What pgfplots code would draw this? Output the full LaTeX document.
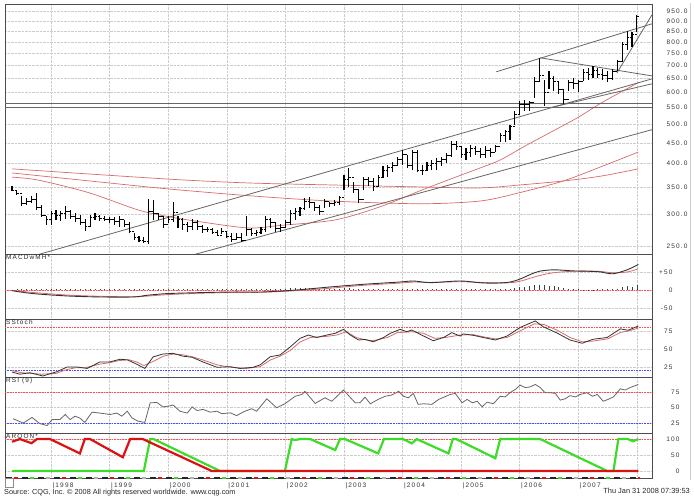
\documentclass[border=0pt]{standalone}
\usepackage{pgfplots}
\usepackage{pgfplotstable}
\pgfplotsset{compat=1.18}
\usepackage{fontspec}
\setmainfont{Liberation Sans}
\newfontfamily\lbl[LetterSpace=18]{Liberation Sans}
\definecolor{maRed}{HTML}{D86A6A}
\definecolor{trGray}{HTML}{666666}
\definecolor{arRed}{HTML}{DD1111}
\definecolor{arGreen}{HTML}{3CDC28}
\pgfdeclareplotmark{cl}{\pgfpathmoveto{\pgfpoint{0pt}{0pt}}\pgfpathlineto{\pgfpoint{2.2bp}{0pt}}\pgfusepathqstroke}
\pgfdeclareplotmark{op}{\pgfpathmoveto{\pgfpoint{0pt}{0pt}}\pgfpathlineto{\pgfpoint{-2.2bp}{0pt}}\pgfusepathqstroke}
\pgfplotstableread{
m h l c
4 351 342 343
5 344 335 337
6 332 314 318
7 329 316 322
8 333 320 325
9 338 307 311
10 316 295 298
11 297 282 290
12 305 282 300
13 306 290 298
14 305 288 300
15 314 292 304
16 307 292 296
17 302 286 292
18 299 282 286
19 292 273 280
20 299 279 294
21 302 290 296
22 299 289 293
23 297 288 291
24 295 285 290
25 295 282 287
26 296 279 290
27 290 278 282
28 286 269 272
29 269 259 262
30 265 255 258
31 263 254 257
32 327 253 305
33 325 290 300
34 302 290 296
35 297 277 282
36 296 285 290
37 322 287 303
38 297 277 290
39 293 274 282
40 287 271 280
41 292 274 285
42 290 274 280
43 282 269 274
44 279 271 274
45 277 267 270
46 274 264 266
47 277 267 272
48 271 262 264
49 269 256 260
50 269 259 262
51 269 255 258
52 297 264 275
53 277 264 268
54 274 265 270
55 279 267 275
56 296 271 290
57 293 277 285
58 287 271 276
59 284 271 278
60 290 277 286
61 307 282 300
62 310 290 305
63 313 296 310
64 329 307 322
65 331 310 320
66 322 305 312
67 316 299 305
68 327 310 322
69 322 313 318
70 324 314 320
71 332 316 330
72 374 344 365
73 390 350 370
74 360 339 345
75 344 320 325
76 371 344 365
77 371 351 360
78 368 341 350
79 374 349 370
80 394 368 385
81 397 371 390
82 404 380 395
83 416 394 410
84 432 397 420
85 419 390 395
86 432 386 425
87 432 380 385
88 397 375 385
89 404 383 395
90 408 386 400
91 412 386 405
92 416 394 410
93 424 401 418
94 454 416 445
95 454 432 440
96 441 412 420
97 436 408 425
98 445 416 435
99 441 420 428
100 436 412 420
101 441 412 430
102 436 416 425
103 445 426 440
104 476 452 470
105 485 452 480
106 499 458 495
107 538 499 530
108 570 528 560
109 575 540 560
110 570 540 565
111 654 582 640
112 730 636 660
113 645 555 600
114 677 610 650
115 658 604 640
116 640 593 610
117 610 560 575
118 645 604 635
119 651 610 630
120 645 602 640
121 684 639 670
122 690 645 665
123 697 650 680
124 690 650 665
125 684 645 660
126 677 638 650
127 684 645 675
128 722 676 715
129 800 715 790
130 849 765 820
131 845 778 835
132 935 845 925
}\price
\pgfplotsset{
 panel/.style={
  scale only axis, width=647bp, xmin=2.56, xmax=135.1,
  xtick={12,24,...,132},
  xmajorgrids, ymajorgrids,
  grid style={densely dotted, black!20, line width=0.5bp},
  axis line style={black!70, line width=0.9bp},
  tick style={draw=none},
  yticklabel pos=right,
  yticklabel style={anchor=east, font=\lbl\fontsize{6.5bp}{7bp}\selectfont, text=black!80},
  clip=true,
 },
}
\tikzset{plab/.style={anchor=north west, inner sep=1bp, font=\lbl\fontsize{6.4bp}{7bp}\selectfont, text=black!85}}
\begin{document}
\begin{tikzpicture}[x=1bp,y=1bp]
\useasboundingbox (0,0) rectangle (694,500);
% ---------- price panel
\begin{axis}[panel, at={(5bp,246bp)}, anchor=south west, height=250bp,
  ymode=log, ymin=238.8, ymax=993, xticklabel=\empty,
  ytick={250,300,350,400,450,500,550,600,650,700,750,800,850,900,950},
  yticklabels={250.0,300.0,350.0,400.0,450.0,500.0,550.0,600.0,650.0,700.0,750.0,800.0,850.0,900.0,950.0},
  yticklabel style={xshift=39bp}]
\addplot[maRed, line width=0.7bp, smooth] coordinates {(4,388) (36,366) (52.4,358) (69.2,354) (87.6,350) (99.9,348) (108.1,354) (116.9,362) (124.5,372) (132.3,388)};
\addplot[maRed, line width=0.7bp, smooth] coordinates {(4,379) (20,362) (36,346) (52.4,333) (69.2,323) (87.6,318) (99.9,323) (108.1,339) (116.9,362) (124.5,392) (132.3,427)};
\addplot[maRed, line width=0.7bp, smooth] coordinates {(4,370) (9.3,364) (19.6,339) (29.8,307) (36,295.5) (42.5,287) (52.4,277) (58.9,281) (70.2,290) (79.4,312.5) (87.6,342.5) (93.8,366) (99.9,390) (104,408) (109.1,442) (114.2,477) (119.8,519) (124.5,563) (128.6,600) (132.3,634)};
\addplot[trGray, line width=0.8bp] coordinates {(2.56,562) (135.1,562)};
\addplot[trGray, line width=0.8bp] coordinates {(2.56,551) (135.1,551)};
\addplot[trGray, line width=0.8bp] coordinates {(7.68,234.8) (135.1,648)};
\addplot[trGray, line width=0.8bp] coordinates {(114.2,549.5) (135.1,630)};
\addplot[trGray, line width=0.8bp] coordinates {(40.5,236.5) (135.1,485)};
\addplot[trGray, line width=0.8bp] coordinates {(103.2,674.6) (135.1,887)};
\addplot[trGray, line width=0.8bp] coordinates {(112.2,730.7) (135.1,659)};
\addplot[trGray, line width=0.8bp] coordinates {(127.9,669.6) (135.1,934)};
\addplot[draw=none, mark=none, error bars/.cd, y dir=both, y explicit,
  error mark=none, error bar style={black, line width=1.1bp}]
  table[x=m, y=c, y error plus expr=\thisrow{h}-\thisrow{c}, y error minus expr=\thisrow{c}-\thisrow{l}] {\price};
\addplot[only marks, mark=cl, mark options={black, line width=1bp}] table[x=m, y=c] {\price};
\addplot[only marks, mark=op, mark options={black, line width=1bp}, restrict x to domain=5:132] table[x expr=\thisrow{m}+1, y=c] {\price};
\end{axis}
% ---------- MACD
\begin{axis}[panel, at={(5bp,181bp)}, anchor=south west, height=65bp,
  ymin=-80.6, ymax=100, xticklabel=\empty,
  ytick={-50,0,50}, yticklabels={-50,0,+50}, yticklabel style={xshift=24bp}]
\addplot[red!70, densely dotted, line width=0.6bp] coordinates {(2.56,0) (135.1,0)};
\addplot[ycomb, black!75, line width=0.7bp, mark=none] coordinates {
(4,1) (5,2) (6,2) (7,2) (8,2) (9,2) (10,2) (11,2) (12,2) (13,2) (14,2) (15,2) (16,2) (17,2) (18,2) (19,2) (20,2) (21,2) (22,2) (23,2) (24,2) (25,2) (26,2) (27,2) (28,2) (29,2) (30,2) (31,2)
(32,3) (33,3) (34,3) (35,2) (36,2) (37,3) (38,2) (39,2) (40,2) (41,2) (42,2) (43,2) (44,2) (45,2) (46,2) (47,2) (48,2) (49,2) (50,2) (51,2) (52,3) (53,3) (54,3) (55,3) (56,4) (57,4) (58,4) (59,4) (60,4) (61,5) (62,5) (63,5) (64,5) (65,5) (66,4) (67,4) (68,4) (69,4) (70,4) (71,4) (72,5) (73,5) (74,4) (75,3) (76,4) (77,4) (78,3) (79,4) (80,4) (81,4) (82,4) (83,4) (84,4) (85,3) (86,3) (87,3) (88,3) (89,3) (90,3) (91,3) (92,3) (93,3) (94,4) (95,3) (96,2) (97,2) (98,2) (99,2) (100,2) (101,2) (102,2) (103,2) (104,3) (105,3) (106,4) (107,5)
(108,7) (109,9) (110,12) (111,14) (112,15) (113,14) (114,12) (115,10) (116,8) (117,6)
(118,3) (119,2) (120,2) (121,1) (122,1) (123,1) (124,2) (125,2) (126,2) (127,3) (128,4) (129,7) (130,10) (131,9) (132,13)};
\addplot[maRed, line width=0.8bp, smooth] coordinates {(4,-1) (8.3,-7) (15.3,-14) (22,-17.5) (28.8,-19) (31.7,-17) (35.8,-13) (42.5,-9) (49.3,-7) (55.4,-6) (62.3,-2) (69.2,5) (76,13) (83.3,19) (86.2,22) (89.7,21) (95.8,23) (100,21) (103,20) (106,20) (108,24) (110,32) (112,40) (115,48) (119,52) (124,52) (127,48) (130,50) (132.3,59)};
\addplot[black!80, line width=0.9bp, smooth] coordinates {(4,-2) (8.3,-10) (15.3,-16.6) (22,-19.4) (28.8,-19.4) (31.7,-14.7) (35.8,-10) (42.5,-7.4) (49.3,-5.5) (55.4,-5.5) (62.3,0) (69.2,8.4) (76,15.8) (83.3,22) (86.2,25) (89.7,20.4) (95.8,25) (100,20) (103,19) (106,22) (108,30) (110,42) (112,52) (115,56) (119,53) (124,51) (127,45) (130,56) (132.3,71)};
\node[plab] at (rel axis cs:0,1) {MACDwMH*};
\end{axis}
% ---------- SStoch
\begin{axis}[panel, at={(5bp,123bp)}, anchor=south west, height=58bp,
  ymin=11.1, ymax=91.7, xticklabel=\empty,
  ytick={25,50,75}, yticklabels={25,50,75}, yticklabel style={xshift=24bp}]
\addplot[red!70, densely dotted, line width=0.6bp] coordinates {(2.56,80) (135.1,80)};
\addplot[blue!70, densely dotted, line width=0.6bp] coordinates {(2.56,20) (135.1,20)};
\addplot[maRed, line width=0.8bp] coordinates {(4,20) (6,17) (8,16) (10,15) (13,16) (15,21) (17,24) (19,24) (22,29) (24,31) (26,34) (28,35) (29.5,32) (31,27) (33,33) (35,40) (37,43) (39,42) (41,39) (43,35) (46,28) (48.7,24.6) (52,23) (54.8,25.4) (56.9,34.7) (58.9,40) (61,48) (63,59.7) (65.1,66) (68.5,67.6) (70.5,69.4) (72.5,74) (74.5,66) (76.5,62.5) (78,61.5) (80.9,66) (82.9,72.7) (85.9,74) (88.3,71.8) (90.6,64.8) (92.8,66) (95.8,69.4) (98.5,70) (100.5,67) (103,64) (105.4,66) (108,75) (111,85) (113,84) (115.7,76) (118.3,66) (120.8,60) (123,61) (126,64) (128.6,73) (130.2,75) (132.3,79)};
\addplot[black!80, line width=0.8bp] coordinates {(4,18) (5.6,15) (7.7,17) (10.3,12.5) (13.2,18.5) (15.3,25) (17.3,25) (19.4,23) (22,32) (24,32) (26.1,35.7) (27.6,35) (29.2,30) (31.2,23) (32.9,39) (34.9,43) (37,44) (39,40) (40.9,38.5) (43.1,32) (46,24.6) (48.7,25.4) (50.7,23) (53.4,24.6) (54.8,27.8) (56.9,39.3) (58.9,41.7) (61,53) (63,64.8) (64.7,69.4) (66.4,66) (68.5,69.4) (70.2,71.8) (71.9,77.3) (73.3,69.4) (75,62.5) (76.3,63.4) (78,60) (80.1,66) (81.5,71.8) (83.5,77.3) (84.9,74) (85.9,76.4) (87.9,69.4) (90.3,61.5) (92.4,66) (94.1,72.7) (95.8,68) (96.4,71) (98.5,69) (100.5,66) (103,62.5) (105.4,68) (108.1,80) (111.2,89) (112.8,81) (115.7,72) (118.3,62.5) (120.8,58) (123,63.5) (125.9,66) (128.6,78) (130.2,76) (132.3,82)};
\node[plab] at (rel axis cs:0,1) {SStoch};
\end{axis}
% ---------- RSI
\begin{axis}[panel, at={(5bp,67bp)}, anchor=south west, height=56bp,
  ymin=9, ymax=99, xticklabel=\empty,
  ytick={25,50,75}, yticklabels={25,50,75}, yticklabel style={xshift=31bp}]
\addplot[red!70, densely dotted, line width=0.6bp] coordinates {(2.56,75) (135.1,75)};
\addplot[blue!70, densely dotted, line width=0.6bp] coordinates {(2.56,25) (135.1,25)};
\addplot[black!60, line width=0.8bp] coordinates {(4.2,32) (6.3,25) (8.1,34) (9.7,24) (11.2,21) (12.2,30.6) (13.8,30.6) (14.9,38.7) (15.9,30.6) (16.9,36) (17.9,33) (18.9,26) (20.4,42.5) (22,41) (24.1,38.7) (25.5,41) (26.5,36) (27.6,44) (28.6,33) (29.8,28) (31.2,26) (32.3,57.5) (33.7,58) (34.9,51) (36,52) (37,54) (38.4,44) (39.9,41) (40.9,51) (41.9,45) (43.1,47) (44.6,42.5) (46,44) (47,40) (48.7,41.4) (50,37) (51.7,44) (53.1,48) (54.1,44) (56.2,64) (58.2,49.5) (59.9,56) (62,68) (63.4,71) (64,76) (66.1,56.5) (68.1,65.6) (69.5,60) (71.9,78) (74.3,57.5) (75.3,57.8) (76.3,66.6) (77.4,56) (79,63) (80.4,68) (81.8,70) (83.2,76) (84.2,68) (85.2,65.6) (86.2,72.6) (87.2,55) (88.3,56) (90,55) (91.4,63) (93.8,71) (94.8,72.6) (96.2,57.6) (97.2,63) (98.3,57.6) (99.3,60) (100.3,51) (101.3,58.6) (102.6,56) (104,68) (105,67) (106,73.7) (107.1,79) (108.1,86) (109.1,82) (110.1,83) (111.2,87) (112.2,82) (113.2,73.7) (114.2,73.7) (115.3,72.6) (116.3,61.8) (117.3,64) (118.3,69) (119.4,67) (120.4,71) (121.8,73.7) (122.9,68) (123.9,71) (125.1,60) (126.1,63) (127.2,67) (128.6,80) (129.6,78) (130.6,82) (132.3,87)};
\node[plab] at (rel axis cs:0,1) {RSI (9)};
\end{axis}
% ---------- AROON
\begin{axis}[panel, at={(5bp,22bp)}, anchor=south west, height=45bp,
  ymin=-22, ymax=119,
  ytick={0,50,100}, yticklabels={0,50,100}, yticklabel style={xshift=31bp},
  xticklabels={|1998,|1999,|2000,|2001,|2002,|2003,|2004,|2005,|2006,|2007,},
  xticklabel style={anchor=north west, xshift=-2bp, yshift=-1bp, font=\lbl\fontsize{6.5bp}{7bp}\selectfont, text=black!80}]
\addplot[red!70, densely dotted, line width=0.6bp] coordinates {(2.56,100) (135.1,100)};
\addplot[arGreen, line width=2.2bp] coordinates {(4,0) (31,0) (32.3,100) (33,100) (46.6,0) (59.9,0) (61.3,100) (62,97) (63,100) (65.1,100) (70.2,65.6) (71.2,100) (72.2,100) (79,55) (80.2,100) (84.1,100) (85.9,86.5) (86.9,100) (93.4,55) (94.3,100) (95,100) (103,40) (104,100) (112.2,100) (125.9,0) (127.2,0) (128.2,100) (130.2,100) (131.2,93) (132.3,100)};
\addplot[arRed, line width=2.2bp] coordinates {(4,91.6) (5.6,100) (8,87) (9.1,100) (11.8,100) (17.9,55) (18.9,100) (20,100) (26.7,43) (28.2,100) (30.8,100) (44.9,0) (132.3,0)};
\node[plab] at (rel axis cs:0,1) {AROON*};
\end{axis}
% bottom strip and frame
\draw[black!85, line width=1.6bp, dash pattern=on 6bp off 10bp] (6,22) -- (640,22);
\draw[arRed, line width=1.6bp, dash pattern=on 4bp off 44bp, dash phase=-8bp] (6,22) -- (640,22);
\draw[arGreen, line width=1.6bp, dash pattern=on 4bp off 44bp, dash phase=-24bp] (6,22) -- (640,22);
\draw[black!30, line width=1.6bp, dash pattern=on 4bp off 44bp, dash phase=-40bp] (6,22) -- (640,22);
\draw[black!45, fill=white, line width=0.6bp] (5,13) rectangle (13,22);
\draw[black!20, line width=0.6bp] (690,20) -- (690,497);
\node[anchor=west, inner sep=0pt, font=\fontsize{7.3bp}{8bp}\selectfont, text=black!85] at (4,7) {Source: CQG, Inc. \textcopyright{} 2008 All rights reserved worldwide. www.cqg.com};
\node[anchor=east, inner sep=0pt, font=\fontsize{7.4bp}{8bp}\selectfont, text=black!85] at (690,9) {Thu Jan 31 2008 07:39:53};
\end{tikzpicture}
\end{document}
